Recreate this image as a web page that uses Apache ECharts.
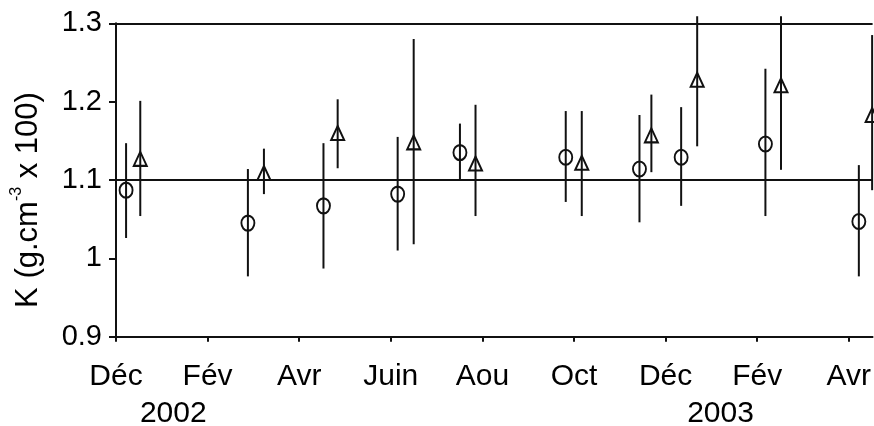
<!DOCTYPE html>
<html><head><meta charset="utf-8">
<script src="https://cdn.jsdelivr.net/npm/echarts@6/dist/echarts.min.js"></script>
<style>html,body{margin:0;padding:0;background:#fff}#c{width:874px;height:426px}</style>
</head><body><div id="c"></div>
<script>
// Tick labels
const monthLabels = ['Déc','Fév','Avr','Juin','Aou','Oct','Déc','Fév','Avr'];
const yTickLabels = ['0.9','1','1.1','1.2','1.3'];
const yearLabels = ['2002','2003'];
const yearMonths = [1.25, 13.2];
const refLines = [1.1, 1.3];

// Series 1 (circles): month position, mean, low, high
const circleMonths = [0.22, 2.88, 4.53, 6.15, 7.51, 9.82, 11.43, 12.34, 14.18, 16.22];
const circleMean   = [1.087, 1.045, 1.067, 1.082, 1.135, 1.129, 1.114, 1.129, 1.146, 1.047];
const circleLow    = [1.026, 0.977, 0.987, 1.010, 1.100, 1.072, 1.046, 1.067, 1.054, 0.977];
const circleHigh   = [1.147, 1.114, 1.147, 1.155, 1.172, 1.188, 1.183, 1.193, 1.242, 1.119];

// Series 2 (triangles)
const triMonths = [0.53, 3.23, 4.84, 6.50, 7.85, 10.17, 11.69, 12.69, 14.52, 16.51];
const triMean   = [1.127, 1.109, 1.160, 1.148, 1.121, 1.122, 1.157, 1.228, 1.221, 1.183];
const triLow    = [1.054, 1.082, 1.115, 1.018, 1.054, 1.054, 1.110, 1.143, 1.113, 1.087];
const triHigh   = [1.201, 1.140, 1.203, 1.280, 1.196, 1.188, 1.209, 1.309, 1.309, 1.285];

const FONT = "'Liberation Sans', Arial, sans-serif";
const INK = '#111';

const errData = circleMonths.map((m, i) => [m, circleLow[i], circleHigh[i]])
  .concat(triMonths.map((m, i) => [m, triLow[i], triHigh[i]]));

function renderErr(params, api) {
  const p1 = api.coord([api.value(0), api.value(1)]);
  const p2 = api.coord([api.value(0), api.value(2)]);
  return {
    type: 'line',
    shape: { x1: p1[0], y1: p1[1], x2: p2[0], y2: p2[1] },
    style: { stroke: INK, lineWidth: 2 }
  };
}

const chart = echarts.init(document.getElementById('c'), null, { renderer: 'canvas' });
chart.setOption({
  animation: false,
  backgroundColor: '#fff',
  grid: { left: 116, right: 0, top: 23.3, bottom: 89.3 },
  xAxis: {
    type: 'value', min: 0, max: 16.52, interval: 2,
    axisLine: { lineStyle: { color: INK, width: 2 } },
    axisTick: { show: true, length: 5, lineStyle: { color: INK, width: 2 } },
    splitLine: { show: false },
    axisLabel: {
      color: '#000', fontFamily: FONT, fontSize: 30, margin: 25,
      showMaxLabel: false,
      formatter: v => monthLabels[Math.round(v / 2)] || ''
    }
  },
  yAxis: {
    type: 'value', min: 0.9, max: 1.3, interval: 0.1,
    axisLine: { show: true, lineStyle: { color: INK, width: 2 } },
    axisTick: { show: true, length: 7, lineStyle: { color: INK, width: 2 } },
    splitLine: { show: false },
    axisLabel: {
      color: '#000', fontFamily: FONT, fontSize: 29, margin: 14,
      formatter: v => yTickLabels[Math.round((v - 0.9) / 0.1)]
    }
  },
  series: [
    {
      type: 'custom', renderItem: renderErr, data: errData, clip: false, z: 2,
      markLine: {
        silent: true, symbol: 'none', label: { show: false },
        lineStyle: { color: INK, width: 2, type: 'solid' },
        data: refLines.map(v => ({ yAxis: v }))
      }
    },
    {
      type: 'scatter', symbol: 'circle', symbolSize: [13, 15], z: 3,
      itemStyle: { color: 'rgba(0,0,0,0)', borderColor: INK, borderWidth: 2, opacity: 1 },
      data: circleMonths.map((m, i) => [m, circleMean[i]])
    },
    {
      type: 'scatter', symbol: 'triangle', symbolSize: [13, 14], z: 3, clip: false,
      itemStyle: { color: 'rgba(0,0,0,0)', borderColor: INK, borderWidth: 2, opacity: 1 },
      data: triMonths.map((m, i) => [m, triMean[i]])
    }
  ]
});

const graphics = yearLabels.map((t, i) => {
  const px = chart.convertToPixel({ xAxisIndex: 0 }, yearMonths[i]);
  return {
    type: 'text', x: px, y: 414,
    style: { text: t, fill: '#000', font: '30px ' + FONT, align: 'center', verticalAlign: 'middle' }
  };
});
graphics.push({
  type: 'text', x: 28.5, y: 200, rotation: Math.PI / 2,
  style: {
    text: '{a|K (g.cm}{s|-3}{a| x 100)}',
    align: 'center', verticalAlign: 'middle',
    rich: {
      a: { fontFamily: FONT, fontSize: 31, fill: '#000', lineHeight: 40 },
      s: { fontFamily: FONT, fontSize: 16, fill: '#000', verticalAlign: 'top', lineHeight: 40 }
    }
  }
});
chart.setOption({ graphic: graphics });
</script></body></html>
